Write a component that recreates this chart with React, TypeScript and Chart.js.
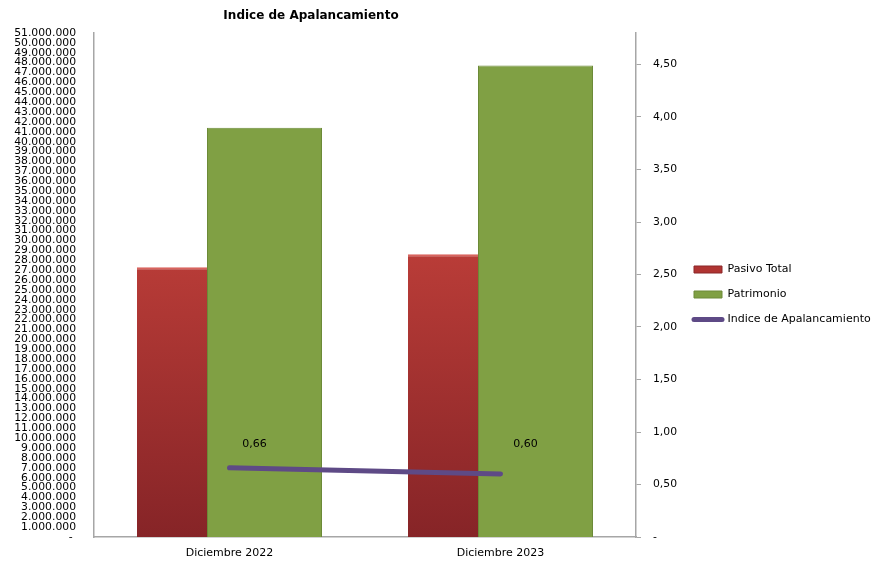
import React, { useEffect, useRef } from 'react';
import { Chart, registerables } from 'chart.js';

Chart.register(...registerables);

const categories = ['Diciembre 2022', 'Diciembre 2023'];
const pasivoTotal = [27300000, 28600000];
const patrimonio = [41400000, 47700000];
const indiceApalancamiento = [0.66, 0.6];
const leftAxisMax = 51000000;
const leftAxisStep = 1000000;
const rightAxisMax = 4.8;
const rightAxisStep = 0.5;
const titleText = 'Indice de Apalancamiento';

const FONT = "'DejaVu Sans', sans-serif";
const AXIS_GRAY = '#a6a6a6';
const RED_FILL = '#b03432';
const GREEN_FILL = '#80a044';
const PURPLE = '#5e4a86';

const fmtThousands = (v: number) =>
  v === 0 ? '- ' : String(Math.round(v)).replace(/\B(?=(\d{3})+(?!\d))/g, '.');
const fmtRatio = (v: number) => (v === 0 ? '-' : v.toFixed(2).replace('.', ','));

const titlePlugin = {
  id: 'customTitle',
  afterDraw(chart: any) {
    const { ctx } = chart;
    ctx.save();
    ctx.font = `bold 12px ${FONT}`;
    ctx.fillStyle = '#000';
    ctx.textAlign = 'center';
    ctx.textBaseline = 'middle';
    ctx.fillText(titleText, 311, 16);
    ctx.restore();
  },
};

const lineLabelsPlugin = {
  id: 'lineLabels',
  afterDatasetsDraw(chart: any) {
    const { ctx } = chart;
    const meta = chart.getDatasetMeta(2);
    const ds = chart.data.datasets[2];
    const topY = Math.min(...meta.data.map((p: any) => p.y));
    ctx.save();
    ctx.font = `11px ${FONT}`;
    ctx.fillStyle = '#000';
    ctx.textAlign = 'center';
    ctx.textBaseline = 'middle';
    meta.data.forEach((pt: any, i: number) => {
      ctx.fillText(fmtRatio(ds.data[i] as number), pt.x + 25, topY - 24);
    });
    ctx.restore();
  },
};

export default function App() {
  const ref = useRef<HTMLCanvasElement | null>(null);

  useEffect(() => {
    if (!ref.current) return;
    const redGradient = (c: any) => {
      const { chart } = c;
      const area = chart.chartArea;
      if (!area) return RED_FILL;
      const g = chart.ctx.createLinearGradient(0, area.top + area.height * 0.42, 0, area.bottom);
      g.addColorStop(0, '#bb3d38');
      g.addColorStop(1, '#862427');
      return g;
    };

    const chart = new Chart(ref.current, {
      type: 'bar',
      data: {
        labels: categories,
        datasets: [
          {
            type: 'bar',
            label: 'Pasivo Total',
            data: pasivoTotal,
            backgroundColor: redGradient,
            borderColor: '#d8645e',
            borderWidth: { top: 2, left: 0, right: 0, bottom: 0 },
            categoryPercentage: 0.8487,
            barPercentage: 0.6087,
            yAxisID: 'y',
            order: 1,
          },
          {
            type: 'bar',
            label: 'Patrimonio',
            data: patrimonio,
            backgroundColor: GREEN_FILL,
            borderColor: '#6c8a38',
            borderWidth: 1,
            categoryPercentage: 0.5166,
            barPercentage: 1.6429,
            yAxisID: 'y',
            order: 1,
          },
          {
            type: 'line',
            label: 'Indice de Apalancamiento',
            data: indiceApalancamiento,
            borderColor: PURPLE,
            backgroundColor: PURPLE,
            borderWidth: 5,
            borderCapStyle: 'round',
            pointRadius: 0,
            pointHoverRadius: 0,
            yAxisID: 'y2',
            order: 0,
          },
        ] as any,
      },
      options: {
        responsive: false,
        animation: false,
        layout: { padding: { top: 33, bottom: 9, left: 0, right: 0 } },
        plugins: {
          title: { display: false },
          tooltip: { enabled: false },
          legend: {
            display: true,
            position: 'right',
            maxWidth: 192,
            labels: {
              font: { family: FONT, size: 11 },
              color: '#000',
              usePointStyle: true,
              pointStyleWidth: 28,
              boxWidth: 28,
              boxHeight: 7,
              padding: 14,
              sort: (a: any, b: any) => a.datasetIndex - b.datasetIndex,
              generateLabels: (chart: any) => {
                const items = Chart.defaults.plugins.legend.labels.generateLabels(chart);
                return items.map((it: any) => {
                  const i = it.datasetIndex;
                  if (i === 2) {
                    return { ...it, pointStyle: 'line', strokeStyle: PURPLE, fillStyle: PURPLE, lineWidth: 5, lineCap: 'round' };
                  }
                  return {
                    ...it,
                    pointStyle: 'rect',
                    fillStyle: i === 0 ? RED_FILL : GREEN_FILL,
                    strokeStyle: i === 0 ? '#8a2628' : '#6c8a38',
                    lineWidth: 1,
                    lineCap: 'butt',
                  };
                });
              },
            },
          },
        },
        scales: {
          x: {
            type: 'category',
            offset: true,
            grid: { display: false, drawTicks: false },
            border: { display: true, color: AXIS_GRAY, width: 1.5 },
            ticks: { font: { family: FONT, size: 11 }, color: '#000', padding: 10, maxRotation: 0 },
            afterFit: (s: any) => {
              s.height = 19;
            },
          },
          y: {
            type: 'linear',
            position: 'left',
            min: 0,
            max: leftAxisMax,
            grid: { display: false, drawTicks: false },
            border: { display: true, color: AXIS_GRAY, width: 1.5 },
            ticks: {
              stepSize: leftAxisStep,
              autoSkip: false,
              font: { family: FONT, size: 10.8, lineHeight: 1 },
              color: '#000',
              padding: 18,
              callback: (v: any) => fmtThousands(Number(v)),
            },
            afterFit: (s: any) => {
              s.width = 94;
            },
          },
          y2: {
            type: 'linear',
            position: 'right',
            min: 0,
            max: rightAxisMax,
            grid: { display: true, drawOnChartArea: false, drawTicks: true, tickLength: 5, color: AXIS_GRAY },
            border: { display: true, color: AXIS_GRAY, width: 1.5 },
            ticks: {
              stepSize: rightAxisStep,
              includeBounds: false,
              autoSkip: false,
              font: { family: FONT, size: 10.8 },
              color: '#000',
              padding: 12,
              callback: (v: any) => fmtRatio(Number(v)),
            },
            afterFit: (s: any) => {
              s.width = 44;
            },
          },
        },
      } as any,
      plugins: [titlePlugin, lineLabelsPlugin],
    });
    return () => chart.destroy();
  }, []);

  return (
    <div style={{ position: 'fixed', left: 0, top: 0, width: 872, height: 565, background: '#fff' }}>
      <canvas ref={ref} width={872} height={565} style={{ display: 'block' }} />
    </div>
  );
}
